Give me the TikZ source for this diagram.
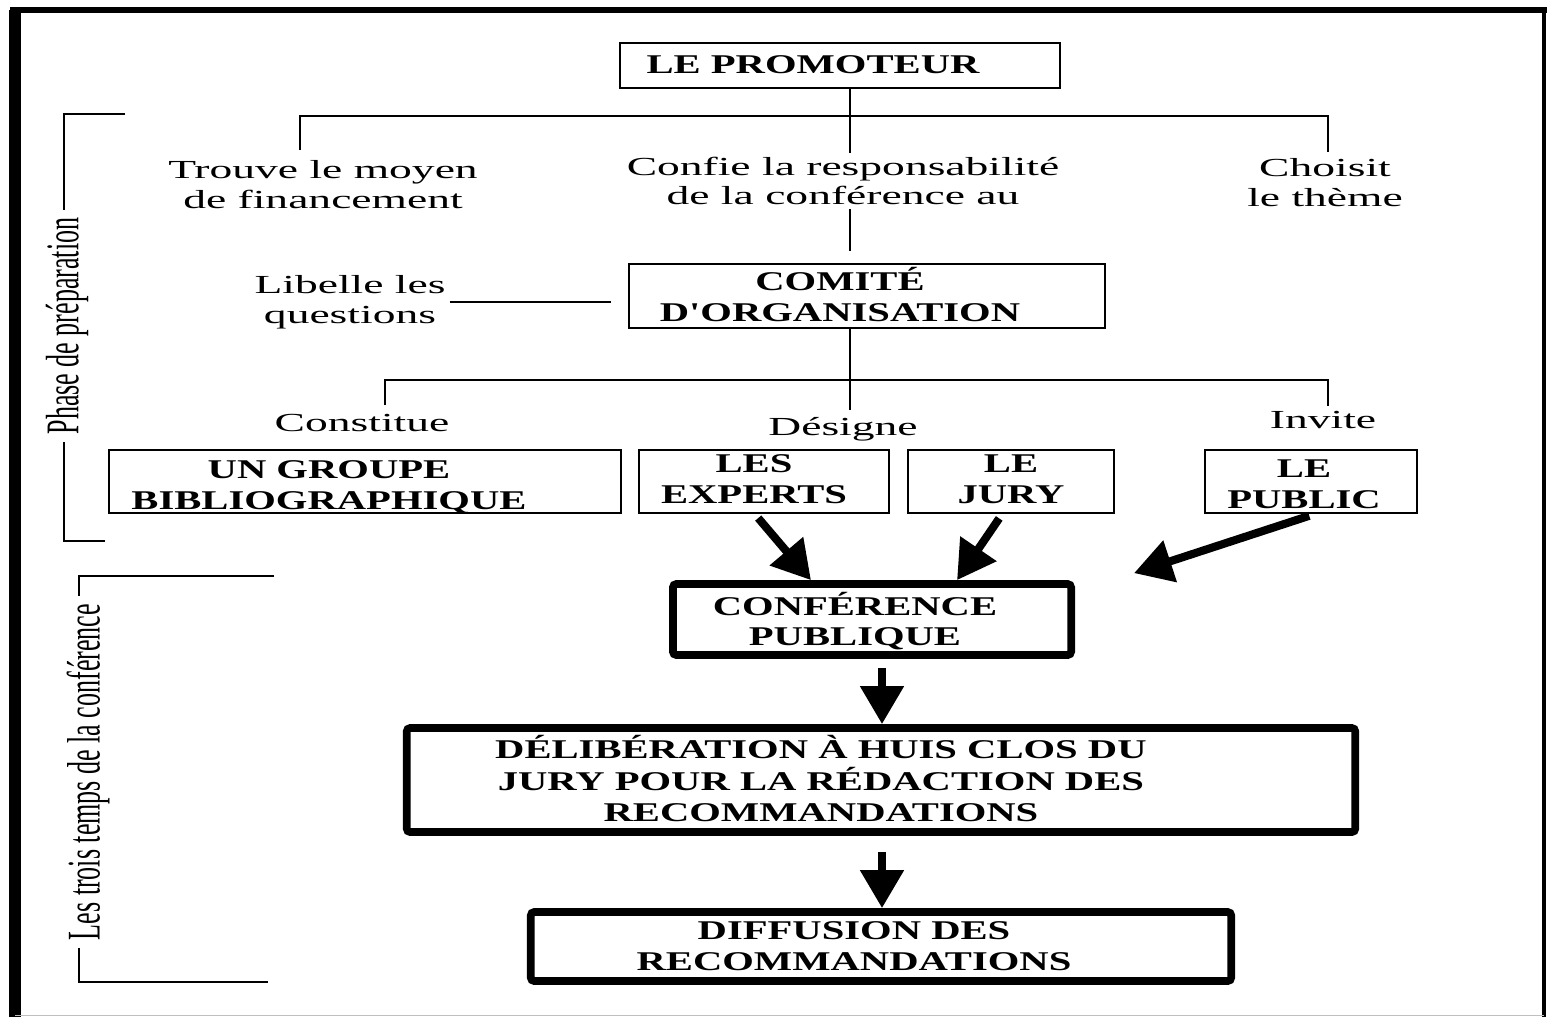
\documentclass[tikz,border=0pt]{standalone}
\usepackage{graphicx}
\usepackage{fontspec}
\setmainfont{Liberation Serif}
\newfontfamily\lblfont[FakeStretch=1.75]{Liberation Serif}
\newfontfamily\boxfont[FakeStretch=1.5]{Liberation Serif}
% #1 right padding, #2 drop, #3 lines
\newcommand{\padleft}[3]{\raisebox{-#2}[\height][\depth]{\begin{tabular}{@{}c@{\hspace{#1}}}#3\end{tabular}}}
\usepackage{tikz}
\usetikzlibrary{arrows.meta,positioning}

\begin{document}
\begin{tikzpicture}[x=0.01cm,y=-0.01cm,
  lbl/.style={font=\lblfont\fontsize{7.4}{8.5}\selectfont,align=center,inner sep=1pt},
  box/.style={draw,line width=0.7pt,align=center,inner sep=0pt,
              font=\boxfont\bfseries\fontsize{7.7}{8.8}\selectfont},
  heavy/.style={box,line width=2.2pt,rounded corners=1pt},
  link/.style={line width=0.7pt},
  bigarrow/.style={line width=2.3pt,-{Triangle[length=0.38cm,width=0.42cm]}},
  side/.style={rotate=90,inner sep=2pt,font=\fontsize{7.4}{8.5}\selectfont}]
\useasboundingbox (0,0) rectangle (1549,1017);
% frame
\draw[line width=0.06cm] (10,10) -- (1547,10);
\draw[line width=0.12cm] (15,10) -- (15,1017);
\draw[line width=0.04cm] (1544,10) -- (1544,1017);
\draw[gray!50,line width=0.3pt] (15,1015) -- (1544,1015);

% boxes
\node[box,minimum width=4.4cm,minimum height=0.45cm] (prom) at (840,65.5) {\padleft{0.54cm}{0.02cm}{LE PROMOTEUR}};
\node[box,minimum width=4.76cm,minimum height=0.64cm] (comite) at (867,296) {\padleft{0.54cm}{0.03cm}{COMITÉ\\D'ORGANISATION}};
\node[box,minimum width=5.12cm,minimum height=0.63cm] (groupe) at (365,481.5) {\padleft{0.72cm}{0.06cm}{UN GROUPE\\BIBLIOGRAPHIQUE}};
\node[box,minimum width=2.5cm,minimum height=0.63cm] (experts) at (764,481.5) {\padleft{0.2cm}{0cm}{LES\\EXPERTS}};
\node[box,minimum width=2.06cm,minimum height=0.63cm] (jury) at (1011,481.5) {\padleft{0cm}{0cm}{LE\\JURY}};
\node[box,minimum width=2.12cm,minimum height=0.63cm] (public) at (1311,481.5) {\padleft{0.14cm}{0.05cm}{LE\\PUBLIC}};
\node[heavy,minimum width=3.98cm,minimum height=0.71cm] (conf) at (872,619.5) {\padleft{0.34cm}{0.04cm}{CONFÉRENCE\\PUBLIQUE}};
\node[heavy,minimum width=9.48cm,minimum height=1.04cm] (delib) at (881,780)
  {\padleft{1.2cm}{0.03cm}{DÉLIBÉRATION À HUIS CLOS DU\\JURY POUR LA RÉDACTION DES\\RECOMMANDATIONS}};
\node[heavy,minimum width=7.0cm,minimum height=0.69cm] (diff) at (881,946.5) {\padleft{0.54cm}{0.02cm}{DIFFUSION DES\\RECOMMANDATIONS}};

% labels
\node[lbl] (trouve) at (323,185) {Trouve le moyen\\de financement};
\node[lbl] (confie) at (843,181) {Confie la responsabilité\\de la conférence au};
\node[lbl] (choisit) at (1325,183) {Choisit\\le thème};
\node[lbl] (libelle) at (350,302) {Libelle les\\questions};
\node[lbl] (constitue) at (362,423) {Constitue};
\node[lbl] (designe) at (843,429) {Désigne};
\node[lbl] (invite) at (1323,420) {Invite};

% side labels
\node[side] (phase) at (67,326) {\scalebox{1}[1.8]{Phase de préparation}};
\node[side] (temps) at (88,772) {\scalebox{1}[1.8]{Les trois temps de la conférence}};
\coordinate (brk1) at (64,0);
\coordinate (brk2) at (79,0);
\draw[link] (125,114) -| (phase.east -| brk1);
\draw[link] (phase.west -| brk1) |- (105,541);
\draw[link] (274,576) -| (temps.east -| brk2);
\draw[link] (temps.west -| brk2) |- (268,982);

% tree
\coordinate (spine) at (850,0);
\coordinate (barA) at (850,116);
\coordinate (barB) at (850,380);
\coordinate (dT) at (300,150);
\coordinate (dC) at (1328,152);
\coordinate (dG) at (385,405);
\coordinate (dI) at (1328,406);
\draw[link] (prom.south -| spine) -- (confie.north -| spine);
\draw[link] (dT) |- (barA) -| (dC);
\draw[link,shorten >=0.12cm] (confie.south -| spine) -- (comite.north -| spine);
\draw[link,shorten >=0.17cm] (libelle.east) -- (comite.west |- libelle.east);
\draw[link,shorten >=0.03cm] (comite.south -| spine) -- (designe.north -| spine);
\draw[link] (dG) |- (barB) -| (dI);

% arrows
\coordinate (axis) at (882,0);
\draw[bigarrow,shorten <=0.05cm] ([xshift=-0.09cm]experts.south) -- ([xshift=-0.61cm]conf.north);
\draw[bigarrow,shorten <=0.05cm] ([xshift=-0.09cm]jury.south) -- ([xshift=0.85cm]conf.north);
\draw[bigarrow,shorten <=0.05cm] ([xshift=0.03cm]public.south) -- ([xshift=0.59cm,yshift=0.07cm]conf.north east);
\draw[bigarrow,shorten <=0.09cm] (conf.south -| axis) -- (delib.north -| axis);
\draw[bigarrow,shorten <=0.16cm] (delib.south -| axis) -- (diff.north -| axis);
\end{tikzpicture}
\end{document}
